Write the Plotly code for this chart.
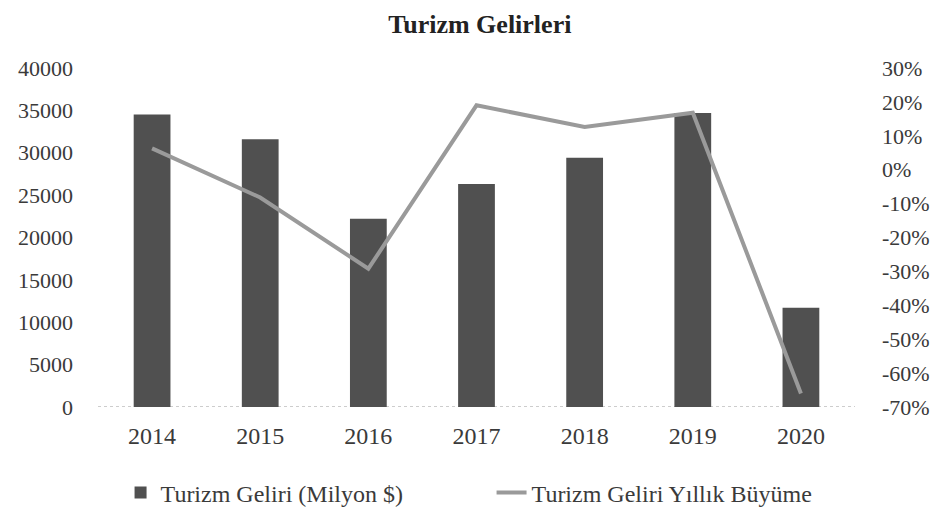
import plotly.graph_objects as go

years = ["2014", "2015", "2016", "2017", "2018", "2019", "2020"]
gelir = [34500, 31600, 22200, 26300, 29400, 34700, 11700]
buyume = [0.063, -0.082, -0.292, 0.190, 0.126, 0.168, -0.660]
left_ticks = [0, 5000, 10000, 15000, 20000, 25000, 30000, 35000, 40000]
left_labels = ["0", "5000", "10000", "15000", "20000", "25000", "30000", "35000", "40000"]
right_ticks = [-0.7, -0.6, -0.5, -0.4, -0.3, -0.2, -0.1, 0.0, 0.1, 0.2, 0.3]
right_labels = ["-70%", "-60%", "-50%", "-40%", "-30%", "-20%", "-10%", "0%", "10%", "20%", "30%"]

FONT = "Liberation Serif"
TXT = "#3a3a3a"

fig = go.Figure()
fig.add_trace(go.Bar(
    x=years, y=gelir, name="Turizm Geliri (Milyon $)",
    marker=dict(color="#505050", line=dict(width=0)),
    yaxis="y",
))
fig.add_trace(go.Scatter(
    x=years, y=buyume, name="Turizm Geliri Yıllık Büyüme",
    mode="lines", line=dict(color="#9a9a9a", width=4),
    yaxis="y2",
))

fig.add_shape(type="line", xref="paper", yref="y", x0=0, x1=1, y0=0, y1=0,
              line=dict(color="#9a9a9a", width=1, dash="dot"), layer="below")

fig.update_layout(
    width=938, height=517,
    margin=dict(l=90, r=91, t=60, b=118, autoexpand=False),
    paper_bgcolor="white", plot_bgcolor="white",
    font=dict(family=FONT, size=22, color=TXT),
    title=dict(text="<b>Turizm Gelirleri</b>", x=0.503, xanchor="center",
               y=0.97, yanchor="middle", automargin=False,
               font=dict(family=FONT, size=26, color="#222")),
    bargap=0.66,
    showlegend=True,
    legend=dict(orientation="h", xref="container", yref="container",
                x=0.12, xanchor="left", y=0.062, yanchor="middle",
                entrywidth=326, entrywidthmode="pixels", itemwidth=30,
                font=dict(family=FONT, size=24, color=TXT)),
    xaxis=dict(showgrid=False, showline=False, zeroline=False, automargin=False,
               ticks="", tickfont=dict(size=24), ticklabelstandoff=12),
    yaxis=dict(range=[0, 40000], tickvals=left_ticks, ticktext=left_labels,
               showgrid=False, zeroline=False, showline=False, ticks="",
               automargin=False, ticklabelstandoff=24, tickfont=dict(size=22)),
    yaxis2=dict(range=[-0.7, 0.3], tickvals=right_ticks, ticktext=right_labels,
                overlaying="y", side="right", showgrid=False, zeroline=False,
                showline=False, ticks="", automargin=False, ticklabelstandoff=26,
                tickfont=dict(size=22)),
)

fig.write_html("out.html")
